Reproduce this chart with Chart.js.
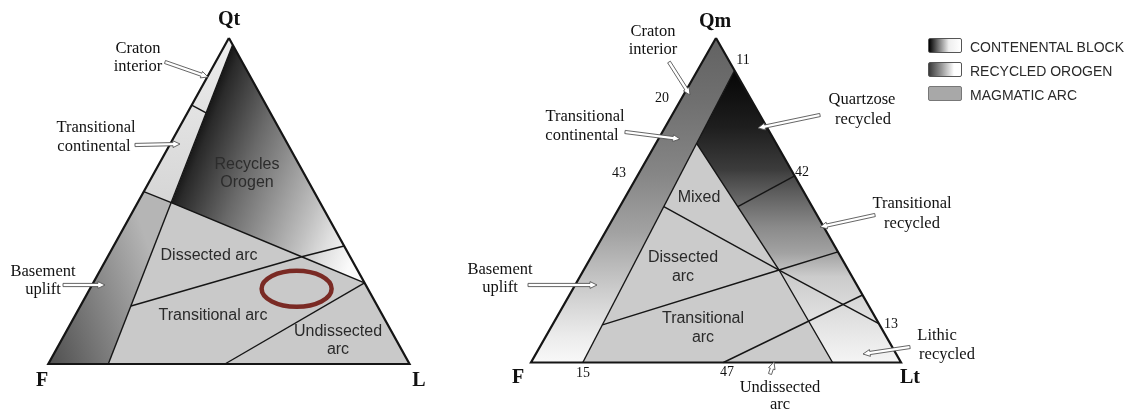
<!DOCTYPE html>
<html><head><meta charset="utf-8">
<script src="https://cdn.jsdelivr.net/npm/chart.js@4.4.1/dist/chart.umd.min.js"></script>
<style>
html,body{margin:0;padding:0;background:#fff;width:1135px;height:413px;overflow:hidden;}
#cl{position:absolute;left:0;top:0;}
#cr{position:absolute;left:450px;top:0;}
.lg-box{position:absolute;left:928px;width:32px;height:13px;border:1px solid #555;border-radius:2px;}
.lg-txt{position:absolute;left:970px;font-family:"Liberation Sans",Arial,sans-serif;font-size:14px;line-height:16px;color:#2a2a2a;white-space:nowrap;}
</style></head>
<body>
<canvas id="cl" width="450" height="413"></canvas>
<canvas id="cr" width="685" height="413"></canvas>
<div class="lg-box" style="top:38px;background:linear-gradient(to right,#000 0%,#777 30%,#eee 62%,#fff 100%);"></div>
<div class="lg-txt" style="top:39px;">CONTENENTAL BLOCK</div>
<div class="lg-box" style="top:62px;background:linear-gradient(to right,#3a3a3a 0%,#999 40%,#fff 78%,#fff 100%);"></div>
<div class="lg-txt" style="top:63px;">RECYCLED OROGEN</div>
<div class="lg-box" style="top:86px;background:#a8a8a8;border-color:#777;"></div>
<div class="lg-txt" style="top:87px;">MAGMATIC ARC</div>
<script>
// ---- Qt–F–L diagram: each point is [Qt, F, L] in percent ----
const qtflCorners = [[100,0,0],[0,100,0],[0,0,100]];
const qtflContinental = [[97.9,0,2.1],[0,83.4,16.6]];
const qtflCratonDivide = [[79.4,20.6,0],[77,17.8,5.2]];
const qtflBasementDivide = [[52.9,47.1,0],[49.5,41.2,9.3]];
const qtflRecycledBase = [[49.5,41.2,9.3],[32.9,13.4,53.7],[24.9,0,75.1]];
const qtflRecycledSplit = [[32.9,13.4,53.7],[36.2,0,63.8]];
const qtflArcDivide = [[32.9,13.4,53.7],[17.8,68.2,14.0]];
const qtflUndissectedDivide = [[24.9,0,75.1],[0,51.1,48.9]];
const qtflHighlight = [23.1,19.7,57.2];

// ---- Qm–F–Lt diagram: each point is [Qm, F, Lt] in percent ----
const qmfltCorners = [[100,0,0],[0,100,0],[0,0,100]];
const qmfltContinental = [[90,0,10],[0,86,14]];
const qmfltArcEdge = [[67.5,21.5,11],[28.5,18.7,52.8],[0,18.5,81.5]];
const qmfltMixedDivide = [[48,40.1,11.9],[28.5,18.7,52.8],[12,0,88]];
const qmfltDissectedDivide = [[11.6,74.9,13.5],[28.5,18.7,52.8],[34.1,0,65.9]];
const qmfltUndissectedDivide = [[0,48,52],[20.8,0,79.2]];
const qmfltQuartzoseDivide = [[48,20.1,31.9],[57.5,0,42.5]];
const qmfltEdgeTicks = ['11','20','43','42','13','15','47'];

// ternary -> cartesian (x along base, y = top-pole share)
const toXY = p => ({x: p[2] + p[0] / 2, y: p[0]});
const closed = pts => pts.concat([pts[0]]).map(toXY);

function grad(chart, a, b, stops) {
  const {ctx, chartArea, scales} = chart;
  if (!chartArea) return stops[0][1];
  const g = ctx.createLinearGradient(
    scales.x.getPixelForValue(a[0]), scales.y.getPixelForValue(a[1]),
    scales.x.getPixelForValue(b[0]), scales.y.getPixelForValue(b[1]));
  stops.forEach(s => g.addColorStop(s[0], s[1]));
  return g;
}
function region(pts, fillFn) {
  return {data: closed(pts), showLine: true, fill: 'shape', order: 10,
    backgroundColor: fillFn, borderColor: 'rgba(0,0,0,0)', borderWidth: 0, pointRadius: 0};
}
function edge(pts, w) {
  return {data: pts.map(toXY), showLine: true, fill: false, order: 1,
    borderColor: '#151515', borderWidth: w || 1.4, pointRadius: 0, borderJoinStyle: 'miter'};
}
function drawArrow(c, x1, y1, x2, y2) {
  const dx = x2 - x1, dy = y2 - y1, L = Math.hypot(dx, dy), ux = dx / L, uy = dy / L, nx = -uy, ny = ux;
  const w = 1.6, hw = 3.4, hl = 7, bx = x2 - ux * hl, by = y2 - uy * hl;
  c.beginPath();
  c.moveTo(x1 + nx * w, y1 + ny * w);
  c.lineTo(bx + nx * w, by + ny * w);
  c.lineTo(bx + nx * hw, by + ny * hw);
  c.lineTo(x2, y2);
  c.lineTo(bx - nx * hw, by - ny * hw);
  c.lineTo(bx - nx * w, by - ny * w);
  c.lineTo(x1 - nx * w, y1 - ny * w);
  c.closePath();
  c.fillStyle = '#fff'; c.fill();
  c.strokeStyle = '#555'; c.lineWidth = 0.9; c.stroke();
}
const SERIF = '"Liberation Serif","DejaVu Serif",serif';
const SANS = '"Liberation Sans",Arial,sans-serif';
const fBig = 'bold 20px ' + SERIF, fLab = '16.5px ' + SERIF, fNum = '14px ' + SERIF, fIn = '16px ' + SANS;

function annotations(texts, arrows, offset, extra) {
  return {
    id: 'annot',
    afterDatasetsDraw(chart) {
      const c = chart.ctx;
      c.save();
      if (extra) extra(chart, c);
      arrows.forEach(a => drawArrow(c, a[0] - offset, a[1], a[2] - offset, a[3]));
      c.textAlign = 'center'; c.textBaseline = 'middle';
      texts.forEach(t => { c.font = t[3]; c.fillStyle = t[4] || '#111'; c.fillText(t[0], t[1] - offset, t[2]); });
      c.restore();
    }
  };
}
function makeChart(id, datasets, xr, yr, plugin) {
  return new Chart(document.getElementById(id), {
    type: 'scatter',
    data: {datasets},
    options: {
      responsive: false, animation: false, events: [],
      layout: {padding: 0},
      plugins: {legend: {display: false}, tooltip: {enabled: false}, title: {display: false}},
      scales: {
        x: {type: 'linear', min: xr[0], max: xr[1], display: false},
        y: {type: 'linear', min: yr[0], max: yr[1], display: false}
      },
      elements: {point: {radius: 0}, line: {tension: 0}}
    },
    plugins: [plugin]
  });
}

// ---------- left chart ----------
const [QT, FL, LL] = qtflCorners;
const leftSets = [
  region([QT, qtflContinental[0], qtflBasementDivide[1], qtflBasementDivide[0]],
    c => grad(c.chart, [40, 98], [40, 50], [[0, '#ececec'], [1, '#d6d6d6']])),
  region([qtflBasementDivide[0], qtflBasementDivide[1], qtflContinental[1], FL],
    c => grad(c.chart, [0.5, 0], [35, 13.4], [[0, '#505050'], [1, '#b5b5b5']])),
  region([qtflContinental[0], ...qtflRecycledBase],
    c => grad(c.chart, [32.8, 68.1], [88.15, 43.6], [[0, '#000'], [0.11, '#141414'], [0.16, '#2a2a2a'], [0.39, '#6a6a6a'], [0.75, '#c0c0c0'], [0.87, '#e0e0e0'], [1, '#fafafa']])),
  region([...qtflRecycledBase, LL, qtflContinental[1]], () => '#c9c9c9'),
  edge(qtflContinental), edge(qtflCratonDivide), edge(qtflBasementDivide),
  edge(qtflRecycledBase), edge(qtflRecycledSplit), edge(qtflArcDivide), edge(qtflUndissectedDivide),
  edge(qtflCorners.concat([qtflCorners[0]]), 2.2)
];
const leftTexts = [
  ['Qt', 229, 20, fBig], ['F', 42, 381, fBig], ['L', 419, 381, fBig],
  ['Craton', 138, 49, fLab], ['interior', 138, 67, fLab],
  ['Transitional', 96, 128, fLab], ['continental', 94, 147, fLab],
  ['Basement', 43, 272, fLab], ['uplift', 43, 290, fLab],
  ['Recycles', 247, 165, fIn, '#2c2c2c'], ['Orogen', 247, 183, fIn, '#2c2c2c'],
  ['Dissected arc', 209, 256, fIn, '#2a2a2a'], ['Transitional arc', 213, 316, fIn, '#2a2a2a'],
  ['Undissected', 338, 332, fIn, '#2a2a2a'], ['arc', 338, 350, fIn, '#2a2a2a']
];
const leftArrows = [[165, 62, 208, 77], [135, 145, 180, 144], [63, 285, 105, 285]];
const leftExtra = (chart, c) => {
  const p = toXY(qtflHighlight);
  c.beginPath();
  c.ellipse(chart.scales.x.getPixelForValue(p.x), chart.scales.y.getPixelForValue(p.y), 35, 18, 0, 0, Math.PI * 2);
  c.strokeStyle = '#7a2a24'; c.lineWidth = 4.5; c.stroke();
};
makeChart('cl', leftSets, [-13.372, 111.213], [-15.031, 111.656], annotations(leftTexts, leftArrows, 0, leftExtra));

// ---------- right chart ----------
const [QM, FR, LT] = qmfltCorners;
const rightSets = [
  region([QM, qmfltContinental[0], qmfltContinental[1], FR],
    c => grad(c.chart, [50, 100], [50, 0], [[0, '#626262'], [0.2, '#707070'], [0.42, '#868686'], [0.6, '#a2a2a2'], [0.78, '#cdcdcd'], [0.92, '#ececec'], [1, '#f8f8f8']])),
  region([qmfltContinental[0], ...qmfltArcEdge, LT],
    c => grad(c.chart, [50, 90], [50, 0], [[0, '#050505'], [0.033, '#0a0a0a'], [0.194, '#1e1e1e'], [0.341, '#3c3c3c'], [0.361, '#464646'], [0.42, '#5e5e5e'], [0.536, '#8a8a8a'], [0.625, '#a2a2a2'], [0.707, '#cccccc'], [0.82, '#dcdcdc'], [0.933, '#ececec'], [1, '#f4f4f4']])),
  region([...qmfltArcEdge, qmfltContinental[1]], () => '#cbcbcb'),
  edge(qmfltContinental), edge(qmfltArcEdge), edge(qmfltMixedDivide), edge(qmfltDissectedDivide),
  edge(qmfltUndissectedDivide), edge(qmfltQuartzoseDivide),
  edge(qmfltCorners.concat([qmfltCorners[0]]), 2.2)
];
const tickPos = [[743, 60], [662, 98], [619, 173], [802, 172], [891, 324], [583, 373], [727, 372]];
const rightTexts = [
  ['Qm', 715, 22, fBig], ['F', 518, 378, fBig], ['Lt', 910, 378, fBig],
  ['Craton', 653, 32, fLab], ['interior', 653, 50, fLab],
  ['Transitional', 585, 117, fLab], ['continental', 582, 136, fLab],
  ['Basement', 500, 270, fLab], ['uplift', 500, 288, fLab],
  ['Quartzose', 862, 100, fLab], ['recycled', 863, 120, fLab],
  ['Transitional', 912, 204, fLab], ['recycled', 912, 224, fLab],
  ['Lithic', 937, 336, fLab], ['recycled', 947, 355, fLab],
  ['Undissected', 780, 388, fLab], ['arc', 780, 405, fLab],
  ['Mixed', 699, 198, fIn, '#2a2a2a'], ['Dissected', 683, 258, fIn, '#2a2a2a'], ['arc', 683, 277, fIn, '#2a2a2a'],
  ['Transitional', 703, 319, fIn, '#2a2a2a'], ['arc', 703, 338, fIn, '#2a2a2a']
].concat(qmfltEdgeTicks.map((t, i) => [t, tickPos[i][0], tickPos[i][1], fNum]));
const rightArrows = [[669, 62, 690, 95], [625, 132, 680, 139], [528, 285, 597, 285], [820, 115, 758, 128],
  [875, 215, 820, 227], [910, 347, 863, 354], [770, 374, 774, 362]];
makeChart('cr', rightSets, [-21.892, 163.243], [-15.563, 111.710], annotations(rightTexts, rightArrows, 450));
</script>
</body></html>
